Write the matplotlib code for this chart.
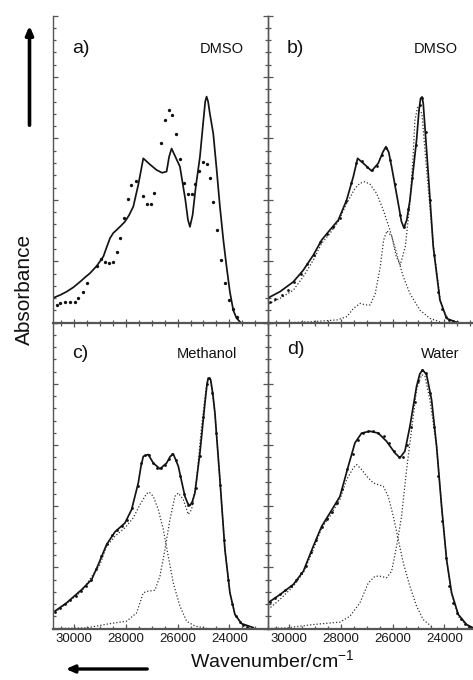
import matplotlib
matplotlib.use("Agg")
import matplotlib.pyplot as plt
import matplotlib.patches as mpatches
from matplotlib.ticker import MultipleLocator, NullFormatter

plt.rcParams["font.family"] = ["Liberation Sans", "DejaVu Sans"]
plt.rcParams["mathtext.fontset"] = "custom"
plt.rcParams["mathtext.rm"] = "Liberation Sans"
plt.rcParams["mathtext.default"] = "regular"

# ---- panel a: calculated spectrum (line) and measured points, DMSO ----
a_fit_wn = [30812, 30550, 30296, 30040, 29780, 29580, 29393, 29130, 28877, 28750,
            28619, 28490, 28361, 28200, 28039, 27880, 27716, 27520, 27329, 27070,
            26813, 26600, 26426, 26330, 26233, 26140, 25910, 25700, 25600, 25523,
            25420, 25300, 25136, 25000, 24930, 24878, 24820, 24750, 24620, 24490,
            24362, 24230, 24104, 23975, 23846, 23720, 23588]
a_fit_abs = [0.081, 0.090, 0.101, 0.115, 0.133, 0.148, 0.161, 0.185, 0.215, 0.245,
             0.275, 0.292, 0.302, 0.315, 0.329, 0.350, 0.378, 0.450, 0.535, 0.515,
             0.497, 0.488, 0.492, 0.540, 0.567, 0.550, 0.508, 0.400, 0.335, 0.312,
             0.350, 0.440, 0.540, 0.660, 0.720, 0.736, 0.720, 0.680, 0.616, 0.500,
             0.378, 0.270, 0.182, 0.100, 0.041, 0.015, 0.003]
a_exp_wn = [30683, 30554, 30361, 30167, 29974, 29845, 29677, 29522, 29135, 28980,
            28813, 28645, 28490, 28361, 28232, 28077, 27935, 27806, 27613, 27355,
            27200, 27045, 26916, 26645, 26490, 26336, 26207, 26065, 25910, 25755,
            25588, 25459, 25317, 25175, 25033, 24878, 24749, 24620, 24465, 24336,
            24168, 24014, 23872, 23717]
a_exp_abs = [0.058, 0.065, 0.068, 0.068, 0.068, 0.079, 0.101, 0.128, 0.186, 0.206,
             0.199, 0.193, 0.199, 0.229, 0.277, 0.340, 0.403, 0.448, 0.461, 0.413,
             0.386, 0.386, 0.423, 0.584, 0.660, 0.694, 0.676, 0.613, 0.532, 0.456,
             0.419, 0.419, 0.451, 0.495, 0.522, 0.516, 0.470, 0.392, 0.302, 0.204,
             0.130, 0.074, 0.043, 0.020]

# ---- panel b: DMSO, fit + two bands ----
b_fit_wn = [30812, 30361, 29845, 29458, 29071, 28748, 28426, 28103, 27781, 27523,
            27355, 27136, 26813, 26555, 26380, 26259, 26150, 26039, 25781, 25660,
            25562, 25450, 25330, 25072, 24980, 24917, 24860, 24814, 24620, 24426,
            24168, 23910, 23523]
b_fit_abs = [0.081, 0.101, 0.133, 0.171, 0.220, 0.269, 0.302, 0.334, 0.399, 0.475,
             0.535, 0.519, 0.494, 0.519, 0.555, 0.573, 0.555, 0.508, 0.388, 0.330,
             0.309, 0.335, 0.399, 0.595, 0.690, 0.730, 0.735, 0.714, 0.486, 0.247,
             0.074, 0.014, 0.001]
b_exp_wn = [30748, 30550, 30300, 30050, 29800, 29550, 29300, 29050, 28800, 28550,
            28300, 28050, 27800, 27600, 27400, 27200, 27000, 26800, 26600, 26400,
            26250, 26100, 25900, 25700, 25560, 25400, 25250, 25100, 24950, 24850,
            24700, 24550, 24400, 24250, 24100, 23950, 23800, 23650, 23500]
b_exp_abs = [0.066, 0.076, 0.090, 0.108, 0.132, 0.160, 0.190, 0.222, 0.262, 0.290,
             0.312, 0.340, 0.395, 0.455, 0.520, 0.525, 0.508, 0.497, 0.510, 0.545,
             0.570, 0.530, 0.450, 0.350, 0.310, 0.370, 0.470, 0.580, 0.710, 0.730,
             0.620, 0.400, 0.220, 0.100, 0.045, 0.020, 0.008, 0.004, 0.002]
b_band1_wn = [30812, 30361, 29845, 29458, 29071, 28748, 28426, 28103, 27781, 27458,
              27265, 27071, 26878, 26620, 26362, 26104, 25846, 25588, 25330, 24943,
              24556, 24168]
b_band1_abs = [0.061, 0.079, 0.106, 0.150, 0.204, 0.258, 0.291, 0.329, 0.388, 0.437,
               0.454, 0.459, 0.451, 0.421, 0.367, 0.302, 0.226, 0.150, 0.095, 0.041,
               0.014, 0.003]
b_band2_wn = [30812, 30090, 29187, 28155, 27768, 27510, 27252, 27059, 26865, 26672,
              26478, 26349, 26220, 26027, 25859, 25704, 25511, 25343, 25214, 25136,
              25033, 24865, 24672, 24414, 24156, 23898]
b_band2_abs = [0.000, 0.000, 0.003, 0.009, 0.020, 0.047, 0.063, 0.058, 0.058, 0.095,
               0.182, 0.269, 0.299, 0.280, 0.215, 0.188, 0.247, 0.378, 0.530, 0.660,
               0.701, 0.681, 0.486, 0.247, 0.074, 0.014]

# ---- panel c: methanol ----
c_fit_wn = [30748, 30296, 29716, 29329, 29071, 28748, 28426, 28039, 27781, 27523,
            27420, 27329, 27136, 26942, 26684, 26426, 26290, 26168, 25974, 25717,
            25600, 25523, 25430, 25330, 25136, 24942, 24860, 24814, 24723, 24640,
            24556, 24362, 24168, 23975, 23781, 23523, 23072]
c_fit_abs = [0.057, 0.084, 0.127, 0.160, 0.209, 0.275, 0.316, 0.345, 0.389, 0.476,
             0.530, 0.563, 0.569, 0.541, 0.522, 0.541, 0.562, 0.571, 0.531, 0.432,
             0.408, 0.402, 0.415, 0.443, 0.574, 0.737, 0.800, 0.819, 0.814, 0.770,
             0.705, 0.487, 0.258, 0.117, 0.046, 0.016, 0.003]
c_exp_wn = [30750, 30550, 30350, 30150, 29950, 29750, 29550, 29350, 29150, 28950,
            28750, 28550, 28350, 28150, 27950, 27750, 27550, 27400, 27250, 27100,
            26950, 26800, 26650, 26500, 26350, 26200, 26050, 25900, 25750, 25600,
            25450, 25300, 25150, 25000, 24880, 24780, 24650, 24500, 24350, 24200,
            24050, 23900, 23750, 23600, 23450, 23300]
c_exp_abs = [0.055, 0.068, 0.080, 0.093, 0.106, 0.123, 0.140, 0.158, 0.195, 0.237,
             0.275, 0.305, 0.322, 0.336, 0.355, 0.395, 0.465, 0.540, 0.566, 0.566,
             0.540, 0.525, 0.525, 0.535, 0.555, 0.570, 0.550, 0.500, 0.440, 0.405,
             0.410, 0.460, 0.565, 0.690, 0.800, 0.820, 0.770, 0.640, 0.470, 0.290,
             0.160, 0.080, 0.040, 0.020, 0.010, 0.005]
c_band1_wn = [30748, 29716, 29006, 28748, 28426, 28039, 27716, 27458, 27200, 27097,
              26942, 26749, 26555, 26362, 26168, 25910, 25652, 25330, 24878]
c_band1_abs = [0.053, 0.122, 0.209, 0.269, 0.302, 0.329, 0.362, 0.405, 0.441, 0.446,
               0.432, 0.389, 0.324, 0.236, 0.149, 0.073, 0.024, 0.008, 0.001]
c_band2_wn = [30748, 29522, 28619, 27974, 27587, 27329, 27136, 26878, 26684, 26491,
              26297, 26104, 25974, 25781, 25588, 25459, 25265, 25072, 24904, 24814,
              24723, 24556, 24362, 24168, 23975, 23781, 23523, 23072]
c_band2_abs = [0.000, 0.002, 0.016, 0.024, 0.051, 0.117, 0.122, 0.125, 0.171, 0.258,
               0.356, 0.432, 0.443, 0.422, 0.373, 0.389, 0.487, 0.661, 0.781, 0.819,
               0.814, 0.705, 0.487, 0.258, 0.117, 0.046, 0.013, 0.001]

# ---- panel d: water ----
d_fit_wn = [30825, 30361, 29845, 29458, 29071, 28748, 28426, 28039, 27716, 27458,
            27200, 26878, 26555, 26233, 25910, 25717, 25523, 25330, 25072, 24950,
            24840, 24685, 24491, 24297, 24104, 23910, 23717, 23459, 23136, 22878]
d_fit_abs = [0.084, 0.111, 0.144, 0.187, 0.269, 0.334, 0.378, 0.432, 0.531, 0.607,
             0.639, 0.645, 0.639, 0.612, 0.574, 0.558, 0.580, 0.661, 0.792, 0.832,
             0.846, 0.830, 0.748, 0.596, 0.400, 0.225, 0.117, 0.046, 0.013, 0.002]
d_exp_wn = [30750, 30550, 30350, 30150, 29950, 29750, 29550, 29350, 29150, 28950,
            28750, 28550, 28350, 28150, 27950, 27750, 27550, 27350, 27150, 26950,
            26750, 26550, 26350, 26150, 25950, 25750, 25600, 25450, 25300, 25150,
            25000, 24850, 24700, 24550, 24400, 24250, 24100, 23950, 23800, 23650,
            23500, 23350, 23200, 23050, 22900]
d_exp_abs = [0.088, 0.100, 0.113, 0.126, 0.140, 0.160, 0.180, 0.205, 0.250, 0.290,
             0.333, 0.358, 0.380, 0.410, 0.455, 0.520, 0.570, 0.615, 0.638, 0.645,
             0.645, 0.640, 0.628, 0.608, 0.580, 0.560, 0.562, 0.600, 0.660, 0.740,
             0.810, 0.845, 0.835, 0.770, 0.660, 0.500, 0.350, 0.230, 0.140, 0.085,
             0.050, 0.030, 0.014, 0.006, 0.002]
d_band1_wn = [30825, 30361, 29845, 29458, 29071, 28748, 28426, 28039, 27781, 27523,
              27394, 27200, 27007, 26749, 26362, 26168, 25974, 25781, 25588, 25330,
              25072, 24814, 24426]
d_band1_abs = [0.062, 0.095, 0.138, 0.182, 0.258, 0.329, 0.367, 0.422, 0.487, 0.525,
               0.536, 0.520, 0.498, 0.476, 0.465, 0.432, 0.367, 0.291, 0.215, 0.138,
               0.073, 0.029, 0.002]
d_band2_wn = [30825, 30103, 29071, 28039, 27652, 27265, 26942, 26684, 26491, 26233,
              26039, 25846, 25652, 25459, 25265, 25072, 24878, 24749, 24556, 24297,
              24104, 23910, 23717, 23459, 23136, 22878]
d_band2_abs = [0.000, 0.002, 0.013, 0.021, 0.040, 0.084, 0.149, 0.171, 0.171, 0.166,
               0.187, 0.269, 0.367, 0.520, 0.650, 0.781, 0.830, 0.825, 0.748, 0.596,
               0.400, 0.225, 0.114, 0.040, 0.010, 0.001]

panel_labels = ["a)", "b)", "c)", "d)"]
solvents = ["DMSO", "DMSO", "Methanol", "Water"]
x_ticks = [30000, 28000, 26000, 24000]

W, H = 473, 680
fig = plt.figure(figsize=(W / 100, H / 100), dpi=100)
fig.patch.set_facecolor("white")

spine_c = "#555555"
line_c = "#141414"


def make_axes(x0, y_top, y_bot, width=215):
    return fig.add_axes([x0 / W, 1 - y_bot / H, width / W, (y_bot - y_top) / H])


ax_a = make_axes(53, 15.5, 322.7)
ax_b = make_axes(268, 15.5, 322.7)
ax_c = make_axes(53, 322.7, 628.5)
ax_d = make_axes(268, 322.7, 628.5)
axes = [ax_a, ax_b, ax_c, ax_d]

for i, ax in enumerate(axes):
    top = i < 2
    left = i % 2 == 0
    ax.set_xlim(30825, 22500)
    ax.set_ylim(0, 1)
    ax.set_facecolor("none")
    ax.xaxis.set_major_locator(MultipleLocator(2000))
    ax.xaxis.set_minor_locator(MultipleLocator(500))
    ax.yaxis.set_major_locator(MultipleLocator(0.2))
    ax.yaxis.set_minor_locator(MultipleLocator(0.04))
    ax.yaxis.set_major_formatter(NullFormatter())
    ax.spines["top"].set_visible(False)
    ax.spines["right"].set_visible(left)
    for s in ("left", "right", "bottom"):
        ax.spines[s].set_color(spine_c)
        ax.spines[s].set_linewidth(1.0)
    ax.spines["bottom"].set_linewidth(1.6)
    ax.tick_params(axis="y", which="both", direction="in", left=True,
                   right=left, color=spine_c, width=0.9)
    ax.tick_params(axis="y", which="major", length=3.5)
    ax.tick_params(axis="y", which="minor", length=2.2)
    if top:
        ax.set_xticks(x_ticks)
        ax.xaxis.set_major_formatter(NullFormatter())
        ax.tick_params(axis="x", which="both", direction="inout", color=spine_c, width=0.9)
        ax.tick_params(axis="x", which="major", length=6)
        ax.tick_params(axis="x", which="minor", length=4)
    else:
        ax.set_xticks(x_ticks, [str(t) for t in x_ticks])
        ax.tick_params(axis="x", which="both", direction="in", color=spine_c,
                       width=0.9, labelsize=9.5, pad=3, labelcolor="#1a1a1a")
        ax.tick_params(axis="x", which="major", length=3.5)
        ax.tick_params(axis="x", which="minor", length=2.5)

dotted = dict(color="#333333", lw=0.9, ls=(0, (1, 1.6)))
dots = dict(ls="none", marker="o", color="#111111", mec="none")

ax_a.plot(a_fit_wn, a_fit_abs, color=line_c, lw=1.25)
ax_a.plot(a_exp_wn, a_exp_abs, ms=2.4, **dots)

for ax, fit_wn, fit_abs, exp_wn, exp_abs, b1_wn, b1_abs, b2_wn, b2_abs in [
    (ax_b, b_fit_wn, b_fit_abs, b_exp_wn, b_exp_abs,
     b_band1_wn, b_band1_abs, b_band2_wn, b_band2_abs),
    (ax_c, c_fit_wn, c_fit_abs, c_exp_wn, c_exp_abs,
     c_band1_wn, c_band1_abs, c_band2_wn, c_band2_abs),
    (ax_d, d_fit_wn, d_fit_abs, d_exp_wn, d_exp_abs,
     d_band1_wn, d_band1_abs, d_band2_wn, d_band2_abs),
]:
    ax.plot(b1_wn, b1_abs, **dotted)
    ax.plot(b2_wn, b2_abs, **dotted)
    ax.plot(fit_wn, fit_abs, color=line_c, lw=1.25)
    ax.plot(exp_wn, exp_abs, ms=2.0, **dots)

label_pos = [(0.088, 0.891), (0.088, 0.894), (0.088, 0.900), (0.088, 0.913)]
solvent_pos = [(0.784, 0.892), (0.779, 0.892), (0.716, 0.897), (0.80, 0.897)]
for ax, lab, sol, lp, sp in zip(axes, panel_labels, solvents, label_pos, solvent_pos):
    ax.text(*lp, lab, transform=ax.transAxes, fontsize=14, ha="left", va="center",
            color="#111111")
    ax.text(*sp, sol, transform=ax.transAxes, fontsize=10.5, ha="center", va="center",
            color="#111111")

fig.text(24 / W, 1 - 289 / H, "Absorbance", rotation=90, fontsize=15,
         ha="center", va="center", color="#111111")
fig.text(190 / W, 1 - 660 / H, "Wavenumber/cm$^{-1}$", fontsize=14,
         ha="left", va="center", color="#111111")

# direction arrows
fig.add_artist(mpatches.FancyArrowPatch(
    (29.5 / W, 1 - 128 / H), (29.5 / W, 1 - 23 / H), transform=fig.transFigure,
    arrowstyle="-|>,head_length=0.5,head_width=0.22", mutation_scale=10,
    lw=2.6, color="black"))
fig.add_artist(mpatches.FancyArrowPatch(
    (150 / W, 1 - 669 / H), (63 / W, 1 - 669 / H), transform=fig.transFigure,
    arrowstyle="-|>,head_length=0.5,head_width=0.22", mutation_scale=10,
    lw=2.4, color="black"))

fig.savefig("out.png", dpi=100)
